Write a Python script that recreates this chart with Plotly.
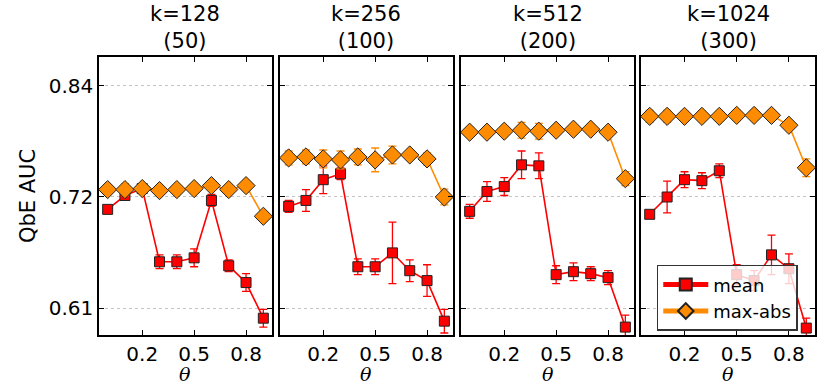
import plotly.graph_objects as go
from plotly.subplots import make_subplots

theta = [0.0, 0.1, 0.2, 0.3, 0.4, 0.5, 0.6, 0.7, 0.8, 0.9]
panel_titles = ["k=128<br>(50)", "k=256<br>(100)", "k=512<br>(200)", "k=1024<br>(300)"]

mean_128 = [0.710, 0.724, 0.731, 0.657, 0.657, 0.661, 0.719, 0.653, 0.636, 0.600]
mean_128_err = [0.003, 0.004, 0.004, 0.007, 0.007, 0.009, 0.006, 0.006, 0.009, 0.009]
max_128 = [0.730, 0.730, 0.731, 0.729, 0.730, 0.731, 0.734, 0.730, 0.734, 0.703]
max_128_err = [0.005, 0.006, 0.005, 0.005, 0.005, 0.004, 0.004, 0.004, 0.004, 0.005]

mean_256 = [0.713, 0.719, 0.740, 0.746, 0.652, 0.652, 0.666, 0.648, 0.638, 0.597]
mean_256_err = [0.006, 0.011, 0.014, 0.006, 0.008, 0.008, 0.031, 0.011, 0.016, 0.012]
max_256 = [0.762, 0.763, 0.761, 0.760, 0.763, 0.760, 0.765, 0.765, 0.761, 0.7225]
max_256_err = [0.007, 0.007, 0.009, 0.009, 0.008, 0.012, 0.009, 0.004, 0.006, 0.008]

mean_512 = [0.708, 0.728, 0.733, 0.755, 0.754, 0.644, 0.647, 0.645, 0.641, 0.591]
mean_512_err = [0.007, 0.010, 0.009, 0.014, 0.013, 0.009, 0.009, 0.007, 0.007, 0.012]
max_512 = [0.788, 0.788, 0.789, 0.790, 0.789, 0.790, 0.791, 0.791, 0.788, 0.741]
max_512_err = [0.004, 0.003, 0.004, 0.008, 0.008, 0.004, 0.004, 0.004, 0.004, 0.007]

mean_1024 = [0.705, 0.7225, 0.740, 0.739, 0.749, 0.644, 0.638, 0.664, 0.650, 0.590]
mean_1024_err = [0.002, 0.016, 0.008, 0.008, 0.007, 0.010, 0.010, 0.020, 0.015, 0.010]
max_1024 = [0.804, 0.804, 0.804, 0.804, 0.804, 0.805, 0.805, 0.805, 0.795, 0.752]
max_1024_err = [0.006, 0.006, 0.005, 0.005, 0.005, 0.005, 0.005, 0.005, 0.005, 0.009]

y_tickvals = [0.61, 0.7225, 0.835]
y_ticktext = ["0.61", "0.72", "0.84"]

panels = [
    (mean_128, mean_128_err, max_128, max_128_err),
    (mean_256, mean_256_err, max_256, max_256_err),
    (mean_512, mean_512_err, max_512, max_512_err),
    (mean_1024, mean_1024_err, max_1024, max_1024_err),
]

RED = "#ff0000"
ORANGE = "#ff8c00"
FONT = "DejaVu Sans"

fig = make_subplots(rows=1, cols=4, shared_yaxes=True, horizontal_spacing=0.01)

for i, (m, me, mx, mxe) in enumerate(panels):
    col = i + 1
    fig.add_trace(go.Scatter(
        x=theta, y=m, name="mean", mode="lines+markers",
        line=dict(color=RED, width=1.6),
        marker=dict(symbol="square", size=10, color=RED, line=dict(color="#222", width=1)),
        error_y=dict(type="data", array=me, color=RED, thickness=1.3, width=4),
        showlegend=(i == 0), legendgroup="mean",
    ), row=1, col=col)
    fig.add_trace(go.Scatter(
        x=theta, y=mx, name="max-abs", mode="lines+markers",
        line=dict(color=ORANGE, width=1.6),
        marker=dict(symbol="diamond", size=14, color=ORANGE, line=dict(color="#222", width=1)),
        error_y=dict(type="data", array=mxe, color=ORANGE, thickness=1.3, width=4),
        showlegend=(i == 0), legendgroup="max",
    ), row=1, col=col)

# pixel-matched panel domains (plot area 99..815 px)
domains = [[0.0, 0.2416], [0.2528, 0.4944], [0.5056, 0.7472], [0.7570, 1.0]]
for i, dom in enumerate(domains):
    ax = "xaxis" if i == 0 else f"xaxis{i + 1}"
    fig.layout[ax].update(
        domain=dom, range=[-0.05, 0.95],
        tickvals=[0.2, 0.5, 0.8], ticktext=["0.2", "0.5", "0.8"],
        ticks="inside", ticklen=5, tickcolor="black",
        showline=True, linecolor="black", linewidth=1.5, mirror="ticks",
        showgrid=False, zeroline=False, automargin=False,
        tickfont=dict(size=20),
    )
    cx = (dom[0] + dom[1]) / 2
    fig.add_annotation(
        text=panel_titles[i], x=cx, y=1, xref="paper", yref="paper",
        xanchor="center", yanchor="bottom", yshift=2, showarrow=False,
        font=dict(size=21, family=FONT),
    )
    fig.add_annotation(
        text="<i>θ</i>", x=cx, y=-0.1835, xref="paper", yref="paper",
        xanchor="center", yanchor="bottom", showarrow=False, borderpad=0,
        font=dict(size=19, family="DejaVu Serif"),
    )

for i in range(4):
    ay = "yaxis" if i == 0 else f"yaxis{i + 1}"
    fig.layout[ay].update(
        range=[0.583, 0.864], tickvals=y_tickvals, ticktext=y_ticktext,
        ticks="inside", ticklen=5, tickcolor="black",
        showline=True, linecolor="black", linewidth=1.5, mirror="ticks",
        showgrid=True, gridcolor="#c4c4c4", griddash="dot", gridwidth=1,
        zeroline=False, tickfont=dict(size=20), automargin=False,
        showticklabels=(i == 0),
    )

fig.add_annotation(
    text="QbE AUC", x=-0.099, y=0.5, xref="paper", yref="paper",
    xanchor="center", yanchor="middle", textangle=-90, showarrow=False,
    font=dict(size=21, family=FONT),
)

fig.update_layout(
    width=831, height=386,
    margin=dict(l=99, r=16, t=57, b=51),
    paper_bgcolor="white", plot_bgcolor="white",
    font=dict(family=FONT, color="black"),
    legend=dict(
        x=0.779, y=0.015, xanchor="left", yanchor="bottom",
        bgcolor="rgba(255,255,255,0.8)", bordercolor="#333", borderwidth=1.5,
        font=dict(size=18), itemsizing="constant", tracegroupgap=0, itemwidth=45,
    ),
)

# page body has a default 8px margin; drop it so the figure sits at (0, 0)
fig.write_html("out.html", config={"displayModeBar": False},
               post_script="document.body.style.margin='0';")
